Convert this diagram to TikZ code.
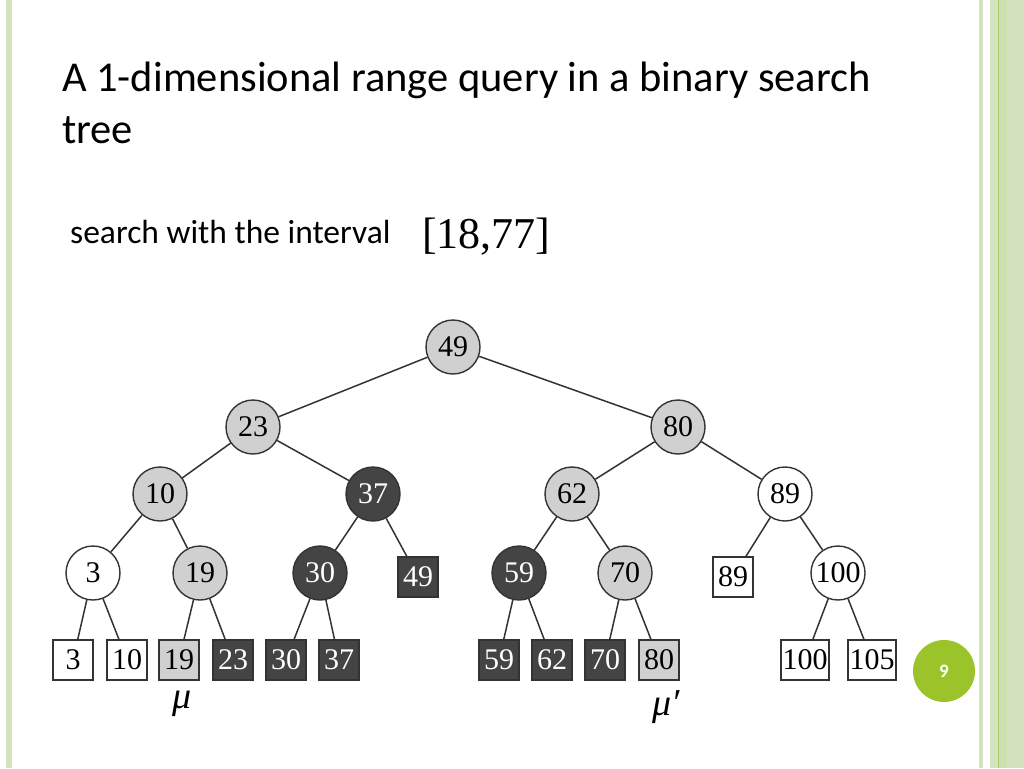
\documentclass[tikz,border=0pt]{standalone}
\usepackage{fontspec}
\setmainfont{Carlito}
\newfontfamily\treefont{Liberation Serif}
\definecolor{bandgreen}{HTML}{D3E3BF}
\definecolor{rulegreen}{HTML}{A9CF6B}
\definecolor{pagegreen}{HTML}{9BC42B}
\definecolor{keygray}{HTML}{D0D0D0}
\definecolor{keydark}{HTML}{444444}
\definecolor{edgegray}{HTML}{333333}

\begin{document}
\begin{tikzpicture}[x=1pt, y=-1pt,
    key/.style={draw=edgegray, line width=1.4pt, inner sep=0pt,
        font=\treefont\fontsize{30}{30}\selectfont},
    inner/.style={key, circle, minimum size=54pt},
    leaf/.style={key, rectangle, minimum width=40pt, minimum height=40pt},
    light/.style={fill=keygray},
    dark/.style={fill=keydark, text=white},
    plain/.style={fill=white},
    edge/.style={draw=edgegray, line width=1.5pt},
    marker/.style={anchor=base, inner sep=0pt, font=\treefont\itshape\fontsize{38}{38}\selectfont}]
\useasboundingbox (0,0) rectangle (1024,768);
\fill[white] (0,0) rectangle (1024,768);
% slide frame
\fill[bandgreen] (6,0) rectangle (12,768);
\fill[bandgreen] (979,0) rectangle (983,768);
\fill[bandgreen] (990,0) rectangle (1024,768);
\fill[bandgreen!85!rulegreen] (998,0) rectangle (1007,768);
\draw[rulegreen, line width=1pt] (998,0) -- (998,768);
% texts
\node[anchor=base west, inner sep=0pt, font=\fontsize{42.5}{52}\selectfont] (title) at (62,91) {A 1-dimensional range query in a binary search};
\node[anchor=base west, inner sep=0pt, font=\fontsize{42.5}{52}\selectfont] (title2) at (62,143) {tree};
\node[anchor=base west, inner sep=0pt, font=\fontsize{33.5}{33.5}\selectfont] (query) at (70,243) {search with the interval};
\node[anchor=base west, inner sep=0pt, font=\treefont\fontsize{44}{44}\selectfont] (range) at (422,248) {[18,77]};
% tree
\node[inner, light] (n49) at (453,347) {49};
\node[inner, light] (n23) at (253,427) {23};
\node[inner, light] (n80) at (678,427) {80};
\node[inner, light] (n10) at (160,494) {10};
\node[inner, dark]  (n37) at (373,494) {37};
\node[inner, light] (n62) at (572,494) {62};
\node[inner, plain] (n89) at (785,494) {89};
\node[inner, plain] (n3)  at (93,573)  {3};
\node[inner, light] (n19) at (200,573) {19};
\node[inner, dark]  (n30) at (320,573) {30};
\node[leaf, dark]   (s49) at (418,577) {49};
\node[inner, dark]  (n59) at (519,573) {59};
\node[inner, light] (n70) at (625,573) {70};
\node[leaf, plain]  (s89) at (733,577) {89};
\node[inner, plain] (n100) at (838,573) {100};
\foreach \name/\x/\look in {3/73/plain, 10/127/plain, 19/179/light, 23/233/dark,
    30/286/dark, 37/339/dark, 59/499/dark, 62/552/dark, 70/605/dark, 80/659/light}
    \node[leaf, \look] (l\name) at (\x,660) {\name};
\node[leaf, plain, minimum width=48pt] (l100) at (805,660) {100};
\node[leaf, plain, minimum width=48pt] (l105) at (872,660) {105};
\foreach \a/\b in {n49/n23, n49/n80, n23/n10, n23/n37, n80/n62, n80/n89,
    n10/n3, n10/n19, n37/n30, n37/s49, n62/n59, n62/n70, n89/s89, n89/n100,
    n3/l3, n3/l10, n19/l19, n19/l23, n30/l30, n30/l37, n59/l59, n59/l62,
    n70/l70, n70/l80, n100/l100, n100/l105}
    \draw[edge] (\a) -- (\b);
\node[marker] (mu) at (182,708) {μ};
\node[marker] (mu2) at (666,715) {μ′};
% page number
\node[circle, fill=pagegreen, minimum size=62pt, inner sep=0pt, text=white,
    font=\bfseries\fontsize{19}{19}\selectfont] (page) at (944,671) {9};
\end{tikzpicture}
\end{document}
